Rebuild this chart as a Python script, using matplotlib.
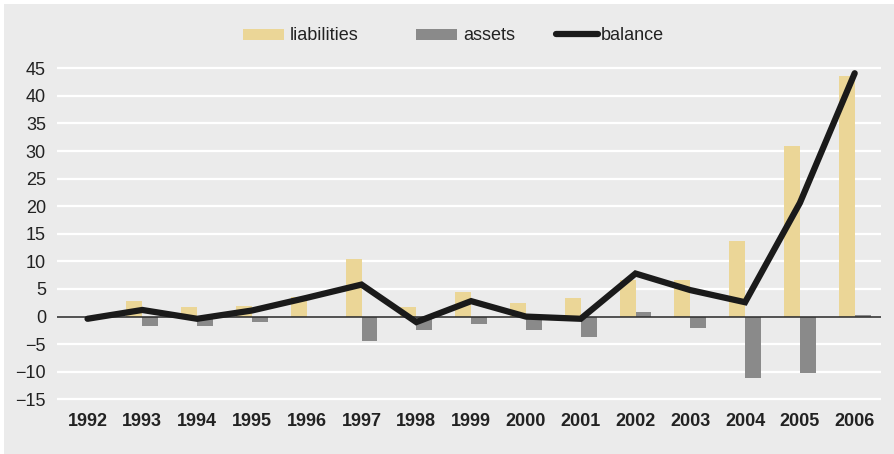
import matplotlib
matplotlib.use("Agg")
import matplotlib.pyplot as plt
import numpy as np
from matplotlib.patches import Rectangle
from matplotlib.lines import Line2D

plt.rcParams['font.family'] = ['Liberation Sans', 'DejaVu Sans']

years = ['1992', '1993', '1994', '1995', '1996', '1997', '1998', '1999',
         '2000', '2001', '2002', '2003', '2004', '2005', '2006']
liabilities = [0.0, 2.9, 1.7, 2.0, 3.6, 10.4, 1.7, 4.5,
               2.5, 3.3, 6.7, 6.7, 13.75, 30.9, 43.6]
assets = [0.0, -1.7, -1.7, -1.0, 0.0, -4.5, -2.4, -1.3,
          -2.5, -3.7, 0.9, -2.1, -11.2, -10.25, 0.2]
balance = [-0.4, 1.2, -0.4, 1.1, 3.4, 5.8, -1.0, 2.8,
           0.0, -0.4, 7.8, 4.8, 2.6, 20.6, 44.1]
yticks = [-15, -10, -5, 0, 5, 10, 15, 20, 25, 30, 35, 40, 45]

bg = '#ebebeb'
c_liab = '#ebd697'
c_asset = '#8a8a8a'
c_line = '#1a1a1a'
c_text = '#222222'
W, H = 894, 454

fig = plt.figure(figsize=(W / 100, H / 100), dpi=100, facecolor='white')
fig.patches.append(Rectangle((4 / W, 0), 1, 1 - 4 / H, transform=fig.transFigure,
                             facecolor=bg, edgecolor='none', zorder=-10))

ax = fig.add_axes([57 / W, 0.1143, (881 - 57) / W, 0.8557 - 0.1143])
ax.patch.set_alpha(0)

x = np.arange(len(years))
w = 0.29
ax.bar(x - w / 2, liabilities, width=w, color=c_liab, zorder=2)
ax.bar(x + w / 2, assets, width=w, color=c_asset, zorder=2)
ax.axhline(0, color='#333333', lw=1.2, zorder=3)
ax.plot(x, balance, color=c_line, lw=4.5, solid_capstyle='round',
        solid_joinstyle='miter', zorder=4)

ax.set_yticks(yticks)
ax.set_ylim(-15.5, 45.5)
ax.set_xlim(-0.557, 14.48)
ax.set_xticks(x)
ax.set_xticklabels(years, fontweight='bold')
ax.yaxis.grid(True, color='white', lw=1.6, zorder=0)
ax.set_axisbelow(True)
for s in ax.spines.values():
    s.set_visible(False)
ax.tick_params(axis='both', length=0, labelsize=13, colors=c_text)
ax.tick_params(axis='y', pad=8)
ax.tick_params(axis='x', pad=8)

# legend drawn by hand, positions in pixels from the top-left corner
def px(xp, yp):
    return xp / W, 1 - yp / H

leg_y = 34
for x0, col, label in [(243, c_liab, 'liabilities'), (416, c_asset, 'assets')]:
    fig.patches.append(Rectangle(px(x0, leg_y + 5.5), 41 / W, 11 / H,
                                 transform=fig.transFigure, facecolor=col,
                                 edgecolor='none'))
    fig.text(*px(x0 + 47, leg_y), label, fontsize=13, color=c_text,
             va='center_baseline', ha='left')
fig.add_artist(Line2D([556 / W, 598 / W], [1 - leg_y / H] * 2, color=c_line,
                      lw=4.5, solid_capstyle='round', transform=fig.transFigure))
fig.text(*px(601, leg_y), 'balance', fontsize=13, color=c_text,
         va='center_baseline', ha='left')

fig.savefig('out.png', dpi=100, facecolor=fig.get_facecolor())
